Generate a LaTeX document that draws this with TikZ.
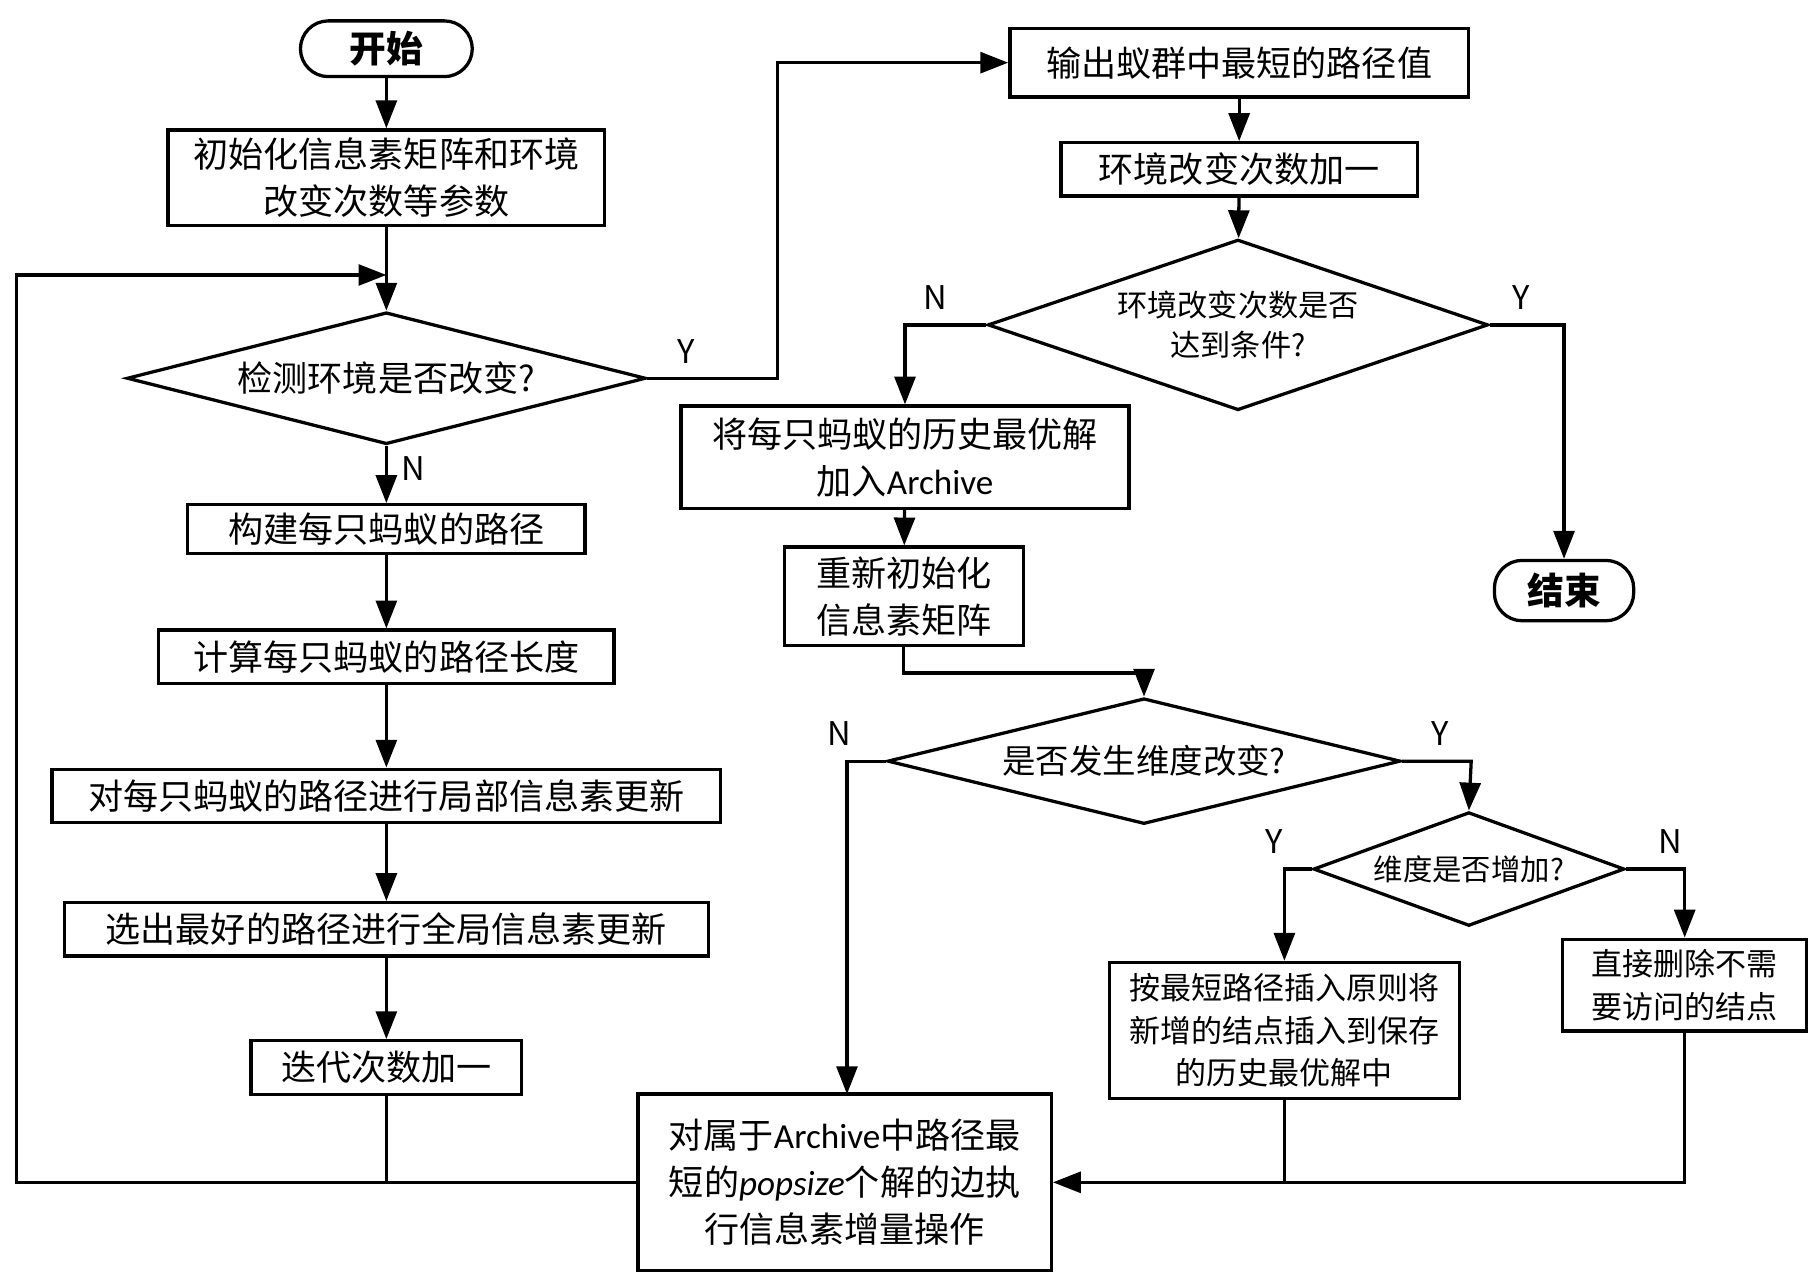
\documentclass[tikz,border=0pt]{standalone}
\usepackage{fontspec}
\setmainfont{Noto Sans CJK SC}
\newfontfamily\lat{Carlito}
\usetikzlibrary{arrows.meta,shapes.geometric,positioning}
\tikzset{
  box/.style={draw,thick,align=center,font=\fontsize{8.6}{11.5}\selectfont,inner sep=0pt},
  term/.style={draw,thick,rounded corners=2.4mm,font=\bfseries\fontsize{9}{11}\selectfont,inner sep=0pt},
  dec/.style={draw,thick,diamond,aspect=3,align=center,inner sep=0pt},
  lab/.style={font=\fontsize{8}{10}\selectfont},
  line/.style={thick},
  arr/.style={thick,-{Triangle[length=2.4mm,width=1.8mm]}}
}
\begin{document}
\begin{tikzpicture}[x=0.01cm,y=-0.01cm]
\useasboundingbox (0,0) rectangle (1560,1102);
% left column
\node[term,minimum width=1.48cm,minimum height=0.48cm] (start) at (333,42) {开始};
\node[box,minimum width=3.76cm,minimum height=0.82cm] (init) at (333,153) {初始化信息素矩阵和环境\\改变次数等参数};
\node[dec,minimum width=4.47cm,minimum height=0.96cm,font=\fontsize{8.6}{11}\selectfont] (check) at (333,326) {检测环境是否改变?};
\node[box,minimum width=3.42cm,minimum height=0.42cm] (build) at (333,456) {构建每只蚂蚁的路径};
\node[box,minimum width=3.92cm,minimum height=0.46cm] (calc) at (333,566) {计算每只蚂蚁的路径长度};
\node[box,minimum width=5.76cm,minimum height=0.46cm] (local) at (333,686) {对每只蚂蚁的路径进行局部信息素更新};
\node[box,minimum width=5.55cm,minimum height=0.46cm] (global) at (333,801) {选出最好的路径进行全局信息素更新};
\node[box,minimum width=2.33cm,minimum height=0.46cm] (iter) at (333,920) {迭代次数加一};
\node[box,minimum width=3.56cm,minimum height=1.52cm] (incr) at (728,1019) {对属于{\lat Archive}中路径最\\短的{\lat\itshape popsize}个解的边执\\行信息素增量操作};
% right column
\node[box,minimum width=3.95cm,minimum height=0.59cm] (out) at (1068,54) {输出蚁群中最短的路径值};
\node[box,minimum width=3.07cm,minimum height=0.46cm] (envinc) at (1068,146) {环境改变次数加一};
\node[dec,minimum width=4.31cm,minimum height=1.47cm,font=\fontsize{7.4}{10}\selectfont] (cond) at (1067,280) {环境改变次数是否\\达到条件?};
\node[box,minimum width=3.86cm,minimum height=0.88cm] (arch) at (780,394) {将每只蚂蚁的历史最优解\\加入{\lat Archive}};
\node[box,minimum width=2.06cm,minimum height=0.85cm] (reinit) at (779,514) {重新初始化\\信息素矩阵};
\node[term,minimum width=1.2cm,minimum height=0.52cm] (stop) at (1348,509) {结束};
\node[dec,minimum width=4.42cm,minimum height=0.99cm,font=\fontsize{8.2}{10}\selectfont] (dim) at (986,656) {是否发生维度改变?};
\node[dec,minimum width=2.68cm,minimum height=0.98cm,font=\fontsize{7.2}{9}\selectfont] (grow) at (1266,749) {维度是否增加?};
\node[box,minimum width=3.01cm,minimum height=1.17cm,font=\fontsize{7.6}{10.4}\selectfont] (insert) at (1107,888) {按最短路径插入原则将\\新增的结点插入到保存\\的历史最优解中};
\node[box,minimum width=2.1cm,minimum height=0.79cm,font=\fontsize{7.6}{10.4}\selectfont] (del) at (1452,849) {直接删除不需\\要访问的结点};
% helper points
\coordinate (c1) at (14,1019);
\coordinate (c2) at (333,237);
% connectors
\draw[arr] (start) -- (init);
\draw[arr] (init) -- (check);
\draw[arr] (check) -- node[lab,right,pos=0.4] {N} (build);
\draw[arr] (build) -- (calc);
\draw[arr] (calc) -- (local);
\draw[arr] (local) -- (global);
\draw[arr] (global) -- (iter);
\draw[line] (iter) -- (iter.south |- incr.west);
\draw[arr] (incr.west) -- (c1) |- (c2);
\draw[arr] (check.east) -- node[lab,above,pos=0.3] {Y} (670,326) |- (out.west);
\draw[arr] (out) -- (envinc);
\draw[arr] (envinc) -- (cond);
\draw[arr] (cond.west) -- node[lab,above left,pos=0.3] {N} (arch.north |- cond.west) -- (arch.north);
\draw[arr] (cond.east) -- node[lab,above right,pos=0.1] {Y} (stop.north |- cond.east) -- (stop.north);
\draw[arr] (arch) -- (reinit);
\draw[arr] (reinit.south) -- (779,580) -| (dim.north);
\draw[arr] (dim.west) -- node[lab,above left,pos=0.5] {N} (730,656) -- (730,943);
\draw[arr] (dim.east) -- node[lab,above right,pos=0.2] {Y} (1268,656) -- (grow.north);
\draw[arr] (grow.west) -- node[lab,above left,pos=0.5] {Y} (insert.north |- grow.west) -- (insert.north);
\draw[arr] (grow.east) -- node[lab,above right,pos=0.3] {N} (del.north |- grow.east) -- (del.north);
\draw[line] (insert.south) -- (insert.south |- incr.east);
\draw[arr] (del.south) |- (incr.east);
\end{tikzpicture}
\end{document}
